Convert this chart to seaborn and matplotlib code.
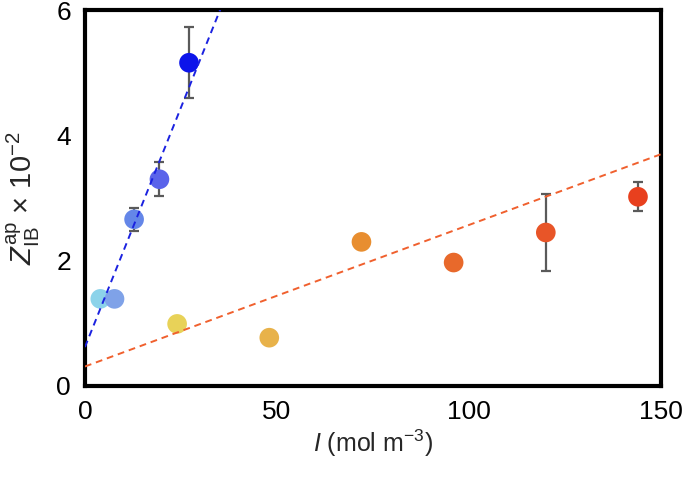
import numpy as np
import pandas as pd
import matplotlib
matplotlib.use("Agg")
import matplotlib.pyplot as plt
import seaborn as sns

# Data
blue_x = [4.0, 7.7, 12.8, 19.4, 27.1]
blue_y = [1.39, 1.39, 2.66, 3.30, 5.16]
blue_err = [0.0, 0.0, 0.18, 0.27, 0.57]
blue_colors = ["#8CD3EA", "#7FA2E8", "#6486E8", "#5A63EA", "#0C14EA"]

orange_x = [24, 48, 72, 96, 120, 144]
orange_y = [0.99, 0.77, 2.30, 1.97, 2.45, 3.02]
orange_err = [0.06, 0.06, 0.08, 0.06, 0.62, 0.23]
orange_colors = ["#E8D258", "#E8B24A", "#E88E30", "#E8692B", "#E85528", "#E8401E"]

blue_fit = (0.153, 0.62)     # slope, intercept
orange_fit = (0.0226, 0.31)

x_ticks = [0, 50, 100, 150]
y_ticks = [0, 2, 4, 6]

sns.set_theme(style="white")
plt.rcParams["font.family"] = ["Liberation Sans", "DejaVu Sans"]
plt.rcParams["mathtext.fontset"] = "custom"
plt.rcParams["mathtext.rm"] = "Liberation Sans"
plt.rcParams["mathtext.it"] = "Liberation Sans:italic"
plt.rcParams["mathtext.default"] = "regular"

fig = plt.figure(figsize=(6.85, 4.83), dpi=100)
ax = fig.add_axes([0.124, 0.201, 0.841, 0.778])

# fit lines
xl = np.linspace(0, 150, 200)
ax.plot(xl, blue_fit[0] * xl + blue_fit[1], ls=(0, (3.5, 2.5)), color="#1B22E0", lw=1.4, zorder=4)
ax.plot(xl, orange_fit[0] * xl + orange_fit[1], ls=(0, (3.5, 2.5)), color="#F0602E", lw=1.4, zorder=4)

# error bars
ax.errorbar(blue_x, blue_y, yerr=blue_err, fmt="none", ecolor="#5a5a5a", elinewidth=1.6, capsize=3.5, capthick=1.6, zorder=2)
ax.errorbar(orange_x, orange_y, yerr=orange_err, fmt="none", ecolor="#5a5a5a", elinewidth=1.6, capsize=3.5, capthick=1.6, zorder=2)

df_b = pd.DataFrame({"x": blue_x, "y": blue_y, "id": [f"b{i}" for i in range(len(blue_x))]})
df_o = pd.DataFrame({"x": orange_x, "y": orange_y, "id": [f"o{i}" for i in range(len(orange_x))]})
sns.scatterplot(data=df_b, x="x", y="y", hue="id", palette=blue_colors, s=200, edgecolor="none",
                legend=False, ax=ax, zorder=3)
sns.scatterplot(data=df_o, x="x", y="y", hue="id", palette=orange_colors, s=200, edgecolor="none",
                legend=False, ax=ax, zorder=3)

ax.set_xlim(0, 150)
ax.set_ylim(0, 6)
ax.set_xticks(x_ticks)
ax.set_yticks(y_ticks)
ax.tick_params(length=0, labelsize=19, colors="black", pad=10)
for s in ax.spines.values():
    s.set_linewidth(3)
    s.set_color("black")

ax.set_xlabel(r"$\mathit{I}$ (mol m$^{-3}$)", fontsize=18, labelpad=3)
ax.set_ylabel(r"$\mathit{Z}_{\rm IB}^{\rm ap}$ × 10$^{-2}$", fontsize=21, labelpad=10)

fig.savefig("out.png", dpi=100)
